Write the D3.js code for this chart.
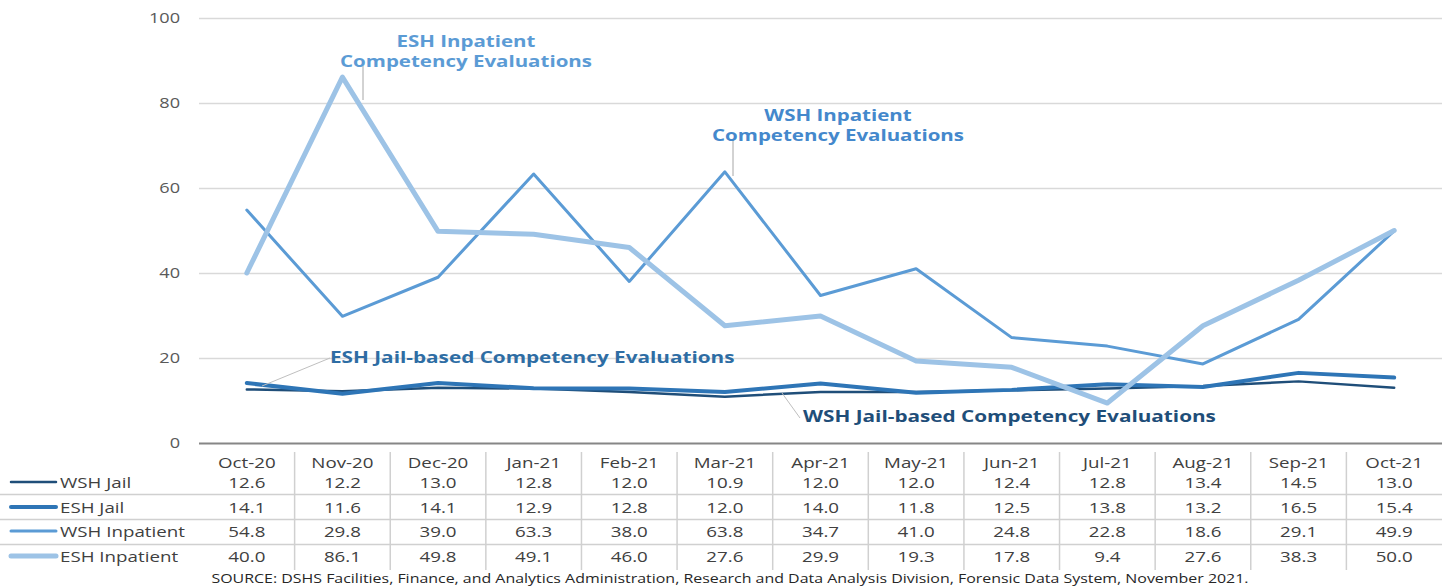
<!DOCTYPE html>
<html>
<head>
<meta charset="utf-8">
<script src="https://cdn.jsdelivr.net/npm/d3@7"></script>
<style>
  body { margin: 0; background: #fff; }
  svg { display: block; font-family: "Open Sans", sans-serif; }
</style>
</head>
<body>
<svg id="chart" width="1450" height="588"></svg>
<script>
// chart data
const months = ['Oct-20','Nov-20','Dec-20','Jan-21','Feb-21','Mar-21','Apr-21','May-21','Jun-21','Jul-21','Aug-21','Sep-21','Oct-21'];
const wshJail = [12.6,12.2,13.0,12.8,12.0,10.9,12.0,12.0,12.4,12.8,13.4,14.5,13.0];
const eshJail = [14.1,11.6,14.1,12.9,12.8,12.0,14.0,11.8,12.5,13.8,13.2,16.5,15.4];
const wshInpatient = [54.8,29.8,39.0,63.3,38.0,63.8,34.7,41.0,24.8,22.8,18.6,29.1,49.9];
const eshInpatient = [40.0,86.1,49.8,49.1,46.0,27.6,29.9,19.3,17.8,9.4,27.6,38.3,50.0];
const seriesNames = ['WSH Jail','ESH Jail','WSH Inpatient','ESH Inpatient'];
const yTicks = [0,20,40,60,80,100];

const series = [
  {name: seriesNames[0], values: wshJail, color: '#1f4e79', width: 2.5},
  {name: seriesNames[1], values: eshJail, color: '#2e75b6', width: 4},
  {name: seriesNames[2], values: wshInpatient, color: '#5b9bd5', width: 3},
  {name: seriesNames[3], values: eshInpatient, color: '#9dc3e6', width: 5}
];

const SX = 1.25; // text in the original is stretched sideways
const svg = d3.select('#chart');

// scales
const x = d3.scaleBand().domain(months).range([199, 1442]);
const y = d3.scaleLinear().domain([0, 100]).range([443, 18]);
const cx = m => x(m) + x.bandwidth() / 2;

// helper for stretched text
function stext(parent, px, py, s, size, color, weight, anchor) {
  return parent.append('text')
    .attr('transform', 'translate(' + px + ',' + py + ') scale(' + SX + ',1)')
    .attr('font-size', size)
    .attr('fill', color)
    .attr('font-weight', weight || 'normal')
    .attr('text-anchor', anchor || 'start')
    .attr('dominant-baseline', 'central')
    .text(s);
}

// gridlines + y labels
const yAxis = svg.append('g').attr('transform', 'translate(199,0)')
  .call(d3.axisLeft(y).tickValues(yTicks).tickSize(-1243).tickPadding(0));
yAxis.select('.domain').remove();
yAxis.selectAll('.tick line').attr('stroke', d => d === 0 ? '#868686' : '#d9d9d9').attr('stroke-width', d => d === 0 ? 2 : 1.3);
yAxis.selectAll('.tick text')
  .attr('x', -19 / SX).attr('transform', 'scale(' + SX + ',1)')
  .attr('font-size', 14.5).attr('fill', '#595959').attr('font-family', '"Open Sans", sans-serif');

// lines
const line = d3.line().x((d, i) => cx(months[i])).y(d => y(d));
svg.append('g').selectAll('path').data(series).join('path')
  .attr('d', d => line(d.values))
  .attr('fill', 'none')
  .attr('stroke', d => d.color)
  .attr('stroke-width', d => d.width)
  .attr('stroke-linejoin', 'round')
  .attr('stroke-linecap', 'round');

// annotations
const ann = svg.append('g');
const lead = '#a6a6a6';
ann.append('line').attr('x1', 363).attr('y1', 66).attr('x2', 363).attr('y2', 100).attr('stroke', lead);
stext(ann, 466, 40, 'ESH Inpatient', 16.4, '#5b9bd5', 'bold', 'middle');
stext(ann, 466, 60, 'Competency Evaluations', 16.4, '#5b9bd5', 'bold', 'middle');

ann.append('line').attr('x1', 733).attr('y1', 140).attr('x2', 733).attr('y2', 176).attr('stroke', lead);
stext(ann, 838, 114, 'WSH Inpatient', 16.4, '#4488cc', 'bold', 'middle');
stext(ann, 838, 134, 'Competency Evaluations', 16.4, '#4488cc', 'bold', 'middle');

ann.append('line').attr('x1', 330).attr('y1', 358).attr('x2', 262).attr('y2', 386).attr('stroke', '#bfbfbf');
stext(ann, 330, 357, 'ESH Jail-based Competency Evaluations', 16.6, '#2e6da4', 'bold', 'start');

ann.append('line').attr('x1', 782).attr('y1', 393).attr('x2', 800).attr('y2', 418).attr('stroke', '#bfbfbf');
stext(ann, 803, 416, 'WSH Jail-based Competency Evaluations', 16.6, '#1f4e79', 'bold', 'start');

// data table
const tbl = svg.append('g');
const rowY = [462, 482, 507, 531, 556];
[494.5, 519.5, 544.5].forEach(ly => {
  tbl.append('line').attr('x1', 0).attr('x2', 1442).attr('y1', ly).attr('y2', ly).attr('stroke', '#d0d0d0').attr('stroke-width', 1.5);
});
months.slice(1).forEach(m => {
  tbl.append('line').attr('x1', x(m)).attr('x2', x(m)).attr('y1', 452).attr('y2', 570).attr('stroke', '#d0d0d0').attr('stroke-width', 1.5);
});
months.forEach(m => stext(tbl, cx(m), rowY[0], m, 15, '#404040', 'normal', 'middle'));
series.forEach((s, r) => {
  const yy = rowY[r + 1];
  tbl.append('line').attr('x1', 11).attr('x2', 56).attr('y1', yy).attr('y2', yy)
    .attr('stroke', s.color).attr('stroke-width', s.width).attr('stroke-linecap', 'round');
  stext(tbl, 60, yy, s.name, 15, '#404040', 'normal', 'start');
  s.values.forEach((v, i) => stext(tbl, cx(months[i]), yy, v.toFixed(1), 15, '#404040', 'normal', 'middle'));
});

// source note
stext(svg, 730, 578, 'SOURCE: DSHS Facilities, Finance, and Analytics Administration, Research and Data Analysis Division, Forensic Data System, November 2021.', 12.75, '#262626', 'normal', 'middle');
</script>
</body>
</html>
